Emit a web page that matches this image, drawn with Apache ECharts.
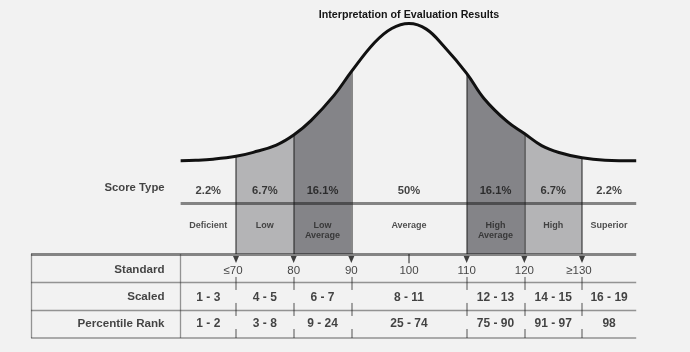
<!DOCTYPE html>
<html>
<head>
<meta charset="utf-8">
<script src="https://cdn.jsdelivr.net/npm/echarts@6/dist/echarts.min.js"></script>
<style>
html,body{margin:0;padding:0;background:#f2f2f2;}
#c{width:690px;height:352px;}
</style>
</head>
<body>
<div id="c"></div>
<script>
// ---------------- data ----------------
const chartTitle = 'Interpretation of Evaluation Results';
// bell curve: standard score vs. relative height (% of peak)
const curveX = [60.4, 63, 66, 70, 73, 77, 80, 83, 87, 90, 94, 97, 100, 103, 106, 110, 113, 117, 120, 123, 126, 130, 134, 139.4];
const curveH = [0, 0.3, 1.1, 3.2, 6.1, 11.4, 18.7, 29.2, 47.6, 64.9, 86.0, 96.4, 100, 95.9, 83.6, 63.7, 45.4, 28.6, 19.8, 11.0, 6.0, 2.1, 0.4, 0];
const columnEdges = [60.4, 70, 80, 90, 110, 120, 130, 139.4];
const boundaries = [70, 80, 90, 110, 120, 130];
const columnShade = ['none', 'light', 'dark', 'none', 'dark', 'light', 'none'];
const percentages = ['2.2%', '6.7%', '16.1%', '50%', '16.1%', '6.7%', '2.2%'];
const categories = ['Deficient', 'Low', 'Low\nAverage', 'Average', 'High\nAverage', 'High', 'Superior'];
const standardTicks = [70, 80, 90, 100, 110, 120, 130];
const standardLabels = ['≤70', '80', '90', '100', '110', '120', '≥130'];
const scaledScores = ['1 - 3', '4 - 5', '6 - 7', '8 - 11', '12 - 13', '14 - 15', '16 - 19'];
const percentileRanks = ['1 - 2', '3 - 8', '9 - 24', '25 - 74', '75 - 90', '91 - 97', '98'];
const rowNames = ['Standard', 'Scaled', 'Percentile Rank'];
const scoreTypeName = 'Score Type';

// ---------------- layout & style ----------------
const FONT = 'Liberation Sans, Arial, sans-serif';
const X_MIN = 30, X_MAX = 148;
const GRID_LEFT = 5.33, GRID_RIGHT = 4.2;
const CURVE_TOP = 9.78, CURVE_BOTTOM = 98;
const Y_MIN = -68, Y_MAX = 110;
const TABLE_TOP = 254, TABLE_BOTTOM = 14;
const TABLE_LEFT_X = 34.45, LABEL_COL_X = 60.35, TABLE_RIGHT_X = 139.4;
const ROW_LABEL_X = 57.7;
const SCORE_LINE_Y = -31.0, PCT_Y = -21.7, CAT_Y = -42.9, SCORE_TYPE_Y = -19.6;
const STD_ROW_Y = 0.61, ROW_Y = [0.57, 1.52, 2.48];
const COLORS = { light: '#b4b4b6', dark: '#848488', none: 'rgba(0,0,0,0)' };
const INK = '#151515';

const colCenters = columnEdges.slice(0, -1).map((e, i) => (e + columnEdges[i + 1]) / 2);
const heightAt = x => curveH[curveX.indexOf(x)];
const curveData = curveX.map((x, i) => [x, curveH[i]]);

function textSeries(grid, items, label) {
  return {
    type: 'scatter', xAxisIndex: grid, yAxisIndex: grid, symbolSize: 1, silent: true, z: 6,
    itemStyle: { color: 'rgba(0,0,0,0)' }, animation: false,
    data: items.map(p => ({ name: p.text, value: [p.x, p.y], label: p.label || {} })),
    label: Object.assign({ show: true, formatter: '{b}', position: 'inside', color: INK, fontFamily: FONT }, label)
  };
}

const pieces = [{ gte: X_MIN, lt: columnEdges[0], color: COLORS.none }]
  .concat(columnShade.map((s, i) => ({ gte: columnEdges[i], lt: columnEdges[i + 1], color: COLORS[s] })))
  .concat([{ gte: columnEdges[columnEdges.length - 1], lte: X_MAX, color: COLORS.none }]);

// lines in the curve grid
const curveLines = boundaries.map(b => ({
  coords: [[b, heightAt(b)], [b, Y_MIN]], lineStyle: { width: 2, color: '#1e1e1e' }
})).concat([{
  coords: [[columnEdges[0], SCORE_LINE_Y], [TABLE_RIGHT_X, SCORE_LINE_Y]], lineStyle: { width: 3, color: INK }
}]);

// lines in the table grid (y: 0..3 rows, top to bottom)
const tableLines = [
  { coords: [[TABLE_LEFT_X, 0], [TABLE_RIGHT_X, 0]], lineStyle: { width: 3.2, color: INK } },
  { coords: [[TABLE_LEFT_X, 1], [TABLE_RIGHT_X, 1]], lineStyle: { width: 1.3, color: '#333' } },
  { coords: [[TABLE_LEFT_X, 2], [TABLE_RIGHT_X, 2]], lineStyle: { width: 1.3, color: '#333' } },
  { coords: [[TABLE_LEFT_X, 3], [TABLE_RIGHT_X, 3]], lineStyle: { width: 1.5, color: '#333' } },
  { coords: [[TABLE_LEFT_X, 0], [TABLE_LEFT_X, 3]], lineStyle: { width: 1.3, color: '#333' } },
  { coords: [[LABEL_COL_X, 0], [LABEL_COL_X, 3]], lineStyle: { width: 1.3, color: '#333' } },
  { coords: [[100, 0], [100, 0.33]], lineStyle: { width: 2, color: '#1e1e1e' } }
].concat(boundaries.map(b => ({
  coords: [[b, 0.82], [b, 3]], lineStyle: { width: 1.5, color: '#1e1e1e', type: [13, 13] }
})));

const option = {
  backgroundColor: '#f2f2f2',
  animation: false,
  title: {
    text: chartTitle, left: 404, top: 5, textAlign: 'center',
    textStyle: { fontFamily: FONT, fontSize: 10.7, fontWeight: 'bold', color: INK }
  },
  grid: [
    { left: GRID_LEFT, right: GRID_RIGHT, top: CURVE_TOP, bottom: CURVE_BOTTOM },
    { left: GRID_LEFT, right: GRID_RIGHT, top: TABLE_TOP, bottom: TABLE_BOTTOM }
  ],
  xAxis: [
    { type: 'value', gridIndex: 0, min: X_MIN, max: X_MAX, show: false },
    { type: 'value', gridIndex: 1, min: X_MIN, max: X_MAX, show: false }
  ],
  yAxis: [
    { type: 'value', gridIndex: 0, min: Y_MIN, max: Y_MAX, show: false },
    { type: 'value', gridIndex: 1, min: 0, max: 3, inverse: true, show: false }
  ],
  visualMap: {
    type: 'piecewise', show: false, dimension: 0, seriesIndex: 0, pieces: pieces
  },
  series: [
    {
      type: 'line', xAxisIndex: 0, yAxisIndex: 0, data: curveData, smooth: 0.4, symbol: 'none', z: 1,
      lineStyle: { width: 0, opacity: 0 }, areaStyle: { opacity: 1, origin: 'start' }, silent: true
    },
    {
      type: 'lines', coordinateSystem: 'cartesian2d', xAxisIndex: 0, yAxisIndex: 0, clip: false, z: 2,
      silent: true, data: curveLines
    },
    {
      type: 'line', xAxisIndex: 0, yAxisIndex: 0, data: curveData, smooth: 0.4, symbol: 'none', z: 3,
      lineStyle: { width: 3, color: '#111' }, silent: true
    },
    {
      type: 'lines', coordinateSystem: 'cartesian2d', xAxisIndex: 1, yAxisIndex: 1, clip: false, z: 2,
      silent: true, data: tableLines
    },
    {
      type: 'scatter', xAxisIndex: 1, yAxisIndex: 1, symbol: 'triangle', symbolRotate: 180,
      symbolSize: [6, 7], itemStyle: { color: '#111' }, silent: true, z: 4,
      data: boundaries.map(b => [b, 0.2])
    },
    textSeries(0, [{ text: scoreTypeName, x: ROW_LABEL_X, y: SCORE_TYPE_Y }],
      { position: 'left', distance: 0, fontSize: 11.3, fontWeight: 'bold' }),
    textSeries(0, percentages.map((t, i) => ({ text: t, x: colCenters[i], y: PCT_Y })),
      { fontSize: 11.2, fontWeight: 'bold' }),
    textSeries(0, categories.map((t, i) => ({ text: t, x: colCenters[i], y: CAT_Y })),
      { position: 'bottom', distance: 0, fontSize: 9, fontWeight: 'bold', lineHeight: 10, color: '#262626' }),
    textSeries(1, rowNames.map((t, i) => ({ text: t, x: ROW_LABEL_X, y: ROW_Y[i] })),
      { position: 'left', distance: 0, fontSize: 11.6, fontWeight: 'bold' }),
    textSeries(1, standardLabels.map((t, i) => ({
      text: t, x: standardTicks[i], y: STD_ROW_Y,
      label: /^[≤≥]/.test(t) ? { offset: [-3, 0] } : {}
    })), { fontSize: 11.5 }),
    textSeries(1, scaledScores.map((t, i) => ({ text: t, x: colCenters[i], y: ROW_Y[1] + 0.03 })),
      { fontSize: 12, fontWeight: 'bold' }),
    textSeries(1, percentileRanks.map((t, i) => ({ text: t, x: colCenters[i], y: ROW_Y[2] })),
      { fontSize: 12, fontWeight: 'bold' })
  ]
};

const chart = echarts.init(document.getElementById('c'), null, { renderer: 'canvas' });
chart.setOption(option);
</script>
</body>
</html>
